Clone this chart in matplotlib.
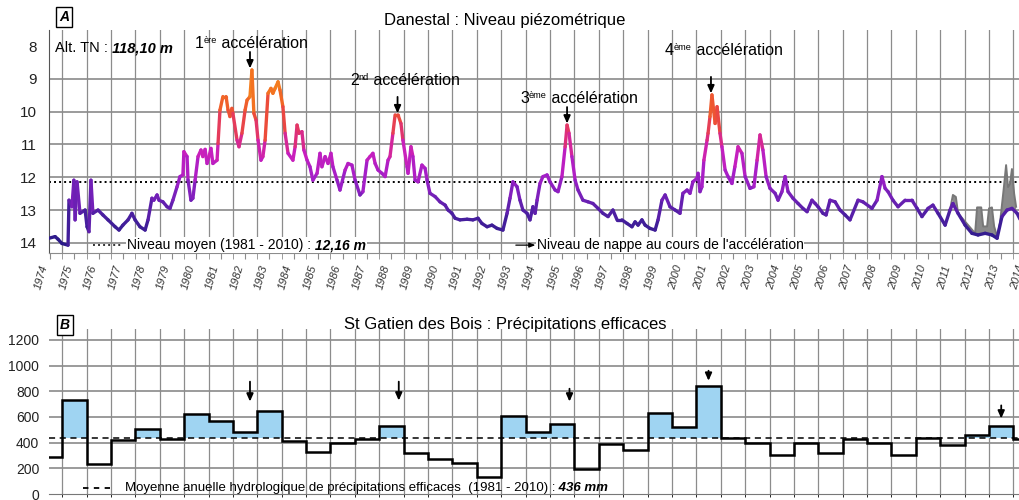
import numpy as np
import matplotlib
matplotlib.use('Agg')
import matplotlib.pyplot as plt
from matplotlib.collections import LineCollection
from matplotlib.colors import LinearSegmentedColormap, Normalize
from matplotlib.patches import Rectangle

plt.rcParams['font.family'] = ['Liberation Sans', 'DejaVu Sans']

############################   Danestal : piezometric level   ############################

# decimal year, depth of water table (m below ground)
piezo_year = [
    1973.96, 1974.21, 1974.33, 1974.49, 1974.74, 1974.78, 1974.90, 1974.98, 1975.03, 1975.11,
    1975.23, 1975.44, 1975.52, 1975.60, 1975.68, 1975.76, 1975.97, 1976.17, 1976.38, 1976.67,
    1976.83, 1976.99, 1977.20, 1977.36, 1977.49, 1977.69, 1977.90, 1978.02, 1978.18, 1978.26,
    1978.39, 1978.47, 1978.63, 1978.80, 1978.92, 1979.04, 1979.21, 1979.33, 1979.45, 1979.49,
    1979.62, 1979.66, 1979.78, 1979.86, 1979.95, 1980.07, 1980.19, 1980.27, 1980.36, 1980.44,
    1980.52, 1980.60, 1980.68, 1980.85, 1980.89, 1980.97, 1981.09, 1981.22, 1981.30, 1981.38,
    1981.46, 1981.50, 1981.67, 1981.75, 1981.87, 1982.00, 1982.08, 1982.20, 1982.28, 1982.36,
    1982.45, 1982.53, 1982.65, 1982.73, 1982.82, 1982.94, 1983.06, 1983.14, 1983.23, 1983.35,
    1983.43, 1983.55, 1983.64, 1983.76, 1983.96, 1984.05, 1984.13, 1984.21, 1984.33, 1984.41,
    1984.54, 1984.66, 1984.78, 1984.95, 1985.07, 1985.15, 1985.28, 1985.40, 1985.52, 1985.60,
    1985.77, 1985.89,
    1986.10, 1986.22, 1986.38, 1986.51, 1986.71, 1986.83, 1987.00, 1987.12, 1987.24, 1987.33,
    1987.45, 1987.61, 1987.74, 1987.86, 1987.94, 1988.06, 1988.15, 1988.27, 1988.39, 1988.47,
    1988.64, 1988.68, 1988.80, 1988.88, 1988.97, 1989.09, 1989.25, 1989.38, 1989.46, 1989.58,
    1989.79, 1989.99, 1990.20, 1990.32, 1990.48, 1990.61, 1990.81, 1991.10, 1991.34, 1991.55,
    1991.71, 1991.92, 1992.12, 1992.33, 1992.57, 1992.74, 1992.86, 1992.98, 1993.15, 1993.27,
    1993.39, 1993.56, 1993.68, 1993.80, 1993.89, 1993.97, 1994.09, 1994.21, 1994.38, 1994.50,
    1994.71, 1994.83, 1994.99, 1995.12, 1995.20, 1995.28, 1995.40, 1995.53, 1995.65, 1995.85,
    1996.06, 1996.26, 1996.47, 1996.67, 1996.88, 1997.08, 1997.25, 1997.45, 1997.66, 1997.86,
    1997.99, 1998.11, 1998.27, 1998.40, 1998.60, 1998.81, 1998.93, 1999.09, 1999.22, 1999.42,
    1999.63, 1999.83,
    1999.95, 2000.12, 2000.24, 2000.36, 2000.53, 2000.57, 2000.65, 2000.73, 2000.81, 2000.94,
    2000.98, 2001.06, 2001.14, 2001.27, 2001.35, 2001.47, 2001.55, 2001.68, 2001.80, 2001.96,
    2002.08, 2002.21, 2002.37, 2002.50, 2002.70, 2002.86, 2002.99, 2003.11, 2003.23, 2003.36,
    2003.52, 2003.73, 2003.85, 2004.01, 2004.14, 2004.26, 2004.46, 2004.67, 2004.87, 2005.04,
    2005.24, 2005.37, 2005.49, 2005.69, 2005.82, 2005.98, 2006.19, 2006.39, 2006.60, 2006.80,
    2007.13, 2007.33, 2007.70, 2007.91, 2008.11, 2008.24, 2008.36, 2008.56, 2008.77, 2009.06,
    2009.34, 2009.55, 2009.75, 2010.00, 2010.20, 2010.41, 2010.70, 2010.90, 2011.02, 2011.23,
    2011.52, 2011.80, 2012.05, 2012.34, 2012.62, 2012.83, 2013.03, 2013.24, 2013.44, 2013.65,
    2013.85,
]
piezo_level = [
    13.86, 13.81, 13.89, 14.02, 14.07, 12.70, 12.90, 12.09, 13.30, 12.14,
    13.10, 13.00, 13.51, 13.66, 12.09, 13.10, 13.00, 13.15, 13.30, 13.51,
    13.61, 13.46, 13.30, 13.10, 13.30, 13.51, 13.61, 13.30, 12.64, 12.70,
    12.54, 12.70, 12.75, 12.90, 12.95, 12.70, 12.29, 11.98, 11.93, 11.22,
    11.37, 12.09, 12.70, 12.64, 12.09, 11.37, 11.17, 11.37, 11.15, 11.58,
    11.37, 11.12, 11.58, 11.48, 10.97, 9.95, 9.54, 9.54, 9.95, 10.15,
    9.90, 10.05, 10.87, 11.07, 10.66, 9.95, 9.65, 9.54, 8.73, 10.05,
    10.26, 10.87, 11.48, 11.37, 10.87, 9.44, 9.29, 9.44, 9.29, 9.09,
    9.34, 9.85, 10.66, 11.27, 11.48, 11.07, 10.41, 10.66, 10.61, 11.17,
    11.48, 11.68, 12.09, 11.88, 11.27, 11.68, 11.37, 11.58, 11.27, 11.68,
    12.09, 12.39,
    11.78, 11.58, 11.63, 12.09, 12.54, 12.44, 11.48, 11.37, 11.27, 11.58,
    11.78, 11.88, 11.98, 11.48, 11.37, 10.66, 10.10, 10.10, 10.36, 10.87,
    11.68, 11.88, 11.07, 11.37, 12.09, 12.14, 11.63, 11.73, 12.09, 12.49,
    12.59, 12.75, 12.85, 13.00, 13.10, 13.25, 13.30, 13.28, 13.30, 13.25,
    13.41, 13.51, 13.46, 13.56, 13.61, 13.10, 12.64, 12.14, 12.29, 12.70,
    13.00, 13.10, 13.30, 12.90, 13.10, 12.70, 12.19, 11.98, 11.93, 12.14,
    12.39, 12.44, 11.98, 11.07, 10.41, 10.66, 11.37, 12.09, 12.39, 12.70,
    12.75, 12.80, 12.95, 13.10, 13.20, 13.00, 13.30, 13.30, 13.41, 13.51,
    13.36, 13.46, 13.30, 13.46, 13.56, 13.61, 13.30, 12.70, 12.54, 12.90,
    13.00, 13.10,
    12.49, 12.39, 12.49, 12.14, 12.03, 11.88, 12.44, 12.29, 11.48, 10.87,
    10.66, 10.15, 9.49, 10.36, 9.85, 10.66, 11.07, 11.78, 11.98, 12.19,
    11.68, 11.07, 11.27, 11.98, 12.34, 12.29, 11.48, 10.71, 11.17, 11.98,
    12.34, 12.49, 12.70, 12.44, 11.98, 12.44, 12.64, 12.80, 12.95, 13.05,
    12.70, 12.80, 12.90, 13.10, 13.15, 12.70, 12.75, 13.00, 13.15, 13.30,
    12.70, 12.75, 12.95, 12.70, 11.98, 12.34, 12.44, 12.70, 12.90, 12.70,
    12.70, 12.95, 13.20, 12.95, 12.85, 13.10, 13.46, 13.00, 12.80, 13.10,
    13.46, 13.71, 13.76, 13.71, 13.76, 13.86, 13.20, 13.00, 12.95, 13.10,
    13.40,
]

# secondary record (grey) 2011-2013
gray_year = [2010.90, 2011.02, 2011.14, 2011.23,
             2011.93, 2012.01, 2012.18, 2012.26, 2012.42, 2012.50, 2012.62, 2012.71, 2012.83,
             2012.95, 2013.03, 2013.11, 2013.20, 2013.28, 2013.36, 2013.44, 2013.53, 2013.61]
gray_level = [13.00, 12.54, 12.60, 13.10,
              13.71, 12.92, 12.92, 13.50, 13.50, 12.95, 12.92, 13.50, 13.80,
              13.40, 12.85, 12.30, 11.63, 12.30, 12.20, 11.75, 12.50, 12.90]

mean_level = 12.16
alt_tn = '118,10 m'

# acceleration peaks (year, ordinal)
accel_year = [1982.2, 1988.25, 1995.2, 2001.1]
accel_num = ['1', '2', '3', '4']
accel_sup = ['ère', 'nd', 'ème', 'ème']

############################   St Gatien des Bois : effective rainfall   ############################

precip_year = list(range(1974, 2015))
precip_mm = [290, 730, 235, 420, 510, 430, 620, 565, 485, 645,
             410, 330, 395, 425, 530, 320, 275, 245, 135, 605,
             485, 545, 195, 390, 345, 630, 520, 840, 440, 400,
             300, 400, 320, 430, 395, 300, 440, 385, 460, 530,
             430]
mean_precip = 436

precip_arrow_year = [1982.2, 1988.3, 1995.3, 2001.0, 2013.0]
precip_arrow_top = [875, 875, 820, 960, 690]
precip_arrow_tip = [720, 728, 720, 882, 588]

# colour ramp along the water table depth
level_colors = [(8.7, '#f7941d'), (9.5, '#f26c22'), (10.2, '#ec4a3c'), (10.7, '#de2f78'),
                (11.3, '#c81fbe'), (12.0, '#a21fc8'), (12.6, '#7420b8'), (13.2, '#4a1fa0'),
                (14.0, '#2a1a88')]

W, H = 1020, 500
fig = plt.figure(figsize=(W / 100, H / 100), dpi=100)

XMIN, XMAX = 1973.96, 2014.59
ax_a = fig.add_axes([49 / W, 1 - 253 / H, (1040 - 49) / W, (253 - 30) / H])
ax_b = fig.add_axes([49 / W, 1 - 494 / H, (1040 - 49) / W, (494 - 329) / H])

grid_col = '#8c8c8c'
half_years = np.arange(1974.5, 2015, 1.0)

for ax in (ax_a, ax_b):
    ax.set_xlim(XMIN, XMAX)
    ax.set_xticks(half_years, minor=True)
    ax.grid(which='minor', axis='x', color=grid_col, lw=0.9, zorder=0)
    for s in ('top', 'right'):
        ax.spines[s].set_visible(False)

# ---------------- panel A ----------------
ax_a.set_ylim(14.31, 7.51)
ax_a.set_yticks(range(8, 15))
ax_a.tick_params(axis='y', length=0, pad=9, labelsize=11, labelcolor='#222')
ax_a.set_xticks(precip_year)
ax_a.set_xticklabels([str(y) for y in precip_year], rotation=74, ha='right',
                     fontsize=8, fontstyle='italic', color='#333')
ax_a.tick_params(axis='x', which='both', length=4, color=grid_col, pad=4)
ax_a.spines['left'].set_color('#555')
ax_a.spines['bottom'].set_color(grid_col)

# legend strip
ax_a.add_patch(Rectangle((1975.5, 13.83), 30.9, 0.44, facecolor='white', edgecolor='none', zorder=1.2))
for lv in range(9, 15):
    ax_a.axhline(lv, color='#808080', lw=1.1, zorder=1.3)
ax_a.axhline(mean_level, color='k', ls=(0, (1, 1.6)), lw=1.4, zorder=2)

cpos = [(lv - level_colors[0][0]) / (level_colors[-1][0] - level_colors[0][0]) for lv, _ in level_colors]
cmap = LinearSegmentedColormap.from_list('depth', list(zip(cpos, [c for _, c in level_colors])))
norm = Normalize(level_colors[0][0], level_colors[-1][0])

# grey record under the main curve
gy = np.array(gray_year)
base = np.interp(gy, piezo_year, piezo_level)
ax_a.fill_between(gy, gray_level, base, where=np.array(gray_level) < base, color='#8a8a8a', lw=0, zorder=2.4)
ax_a.plot(gray_year, gray_level, color='#777777', lw=1.4, zorder=2.5)

pts = np.column_stack([piezo_year, piezo_level])
segs = np.stack([pts[:-1], pts[1:]], axis=1)
lc = LineCollection(segs, cmap=cmap, norm=norm, lw=2.4, capstyle='round', joinstyle='round', zorder=3)
lc.set_array((pts[:-1, 1] + pts[1:, 1]) / 2)
ax_a.add_collection(lc)

py = np.array(piezo_year)
pl = np.array(piezo_level)
for yr in accel_year:
    peak = pl[np.abs(py - yr) < 0.12].min()
    ax_a.annotate('', xy=(yr, peak - 0.05), xytext=(yr, peak - 0.55),
                  arrowprops=dict(arrowstyle='-|>,head_length=0.45,head_width=0.2',
                                  color='k', lw=1.3, shrinkA=0, shrinkB=0), zorder=6)


def chain(ax, x, y, parts, size, zorder=6, bbox=None):
    # parts: list of (text, style dict); consecutive runs on one baseline
    first, style = parts[0]
    t = ax.text(x, y, first, fontsize=size, ha='left', va='center', zorder=zorder, bbox=bbox, **style)
    for s, style in parts[1:]:
        t = ax.annotate(s, xy=(1, 0), xycoords=t, ha='left', va='bottom', fontsize=size,
                        zorder=zorder, bbox=bbox, **style)
    return t


def ordinal(ax, x, y, num, sup, size=11.5):
    t1 = ax.text(x, y, num, fontsize=size, ha='left', va='center', zorder=6)
    t2 = ax.annotate(sup, xy=(1, 0.38), xycoords=t1, ha='left', va='bottom', fontsize=size * 0.58, zorder=6)
    ax.annotate(' accélération', xy=(1, 0), xycoords=(t2, t1), ha='left', va='bottom', fontsize=size, zorder=6)


accel_text_pos = [(1979.95, 7.91), (1986.30, 9.04), (1993.27, 9.59), (1999.22, 8.12)]
for (tx, ty), n, s in zip(accel_text_pos, accel_num, accel_sup):
    ordinal(ax_a, tx, ty, n, s)

bi = dict(fontweight='bold', fontstyle='italic')
chain(ax_a, 1974.2, 8.06, [('Alt. TN :', {}), (' ' + alt_tn, bi)], 10.5)

wb = dict(facecolor='white', edgecolor='none', pad=0.6)
ax_a.plot([1975.76, 1976.95], [14.07, 14.07], color='#333', ls=(0, (1, 1.6)), lw=1.4, zorder=5)
chain(ax_a, 1977.16, 14.07,
      [('Niveau moyen (1981 - 2010) :', {}), (' ' + f'{mean_level:.2f}'.replace('.', ',') + ' m', bi)],
      10, bbox=wb)
ax_a.annotate('', xy=(1993.9, 14.07), xytext=(1993.1, 14.07),
              arrowprops=dict(arrowstyle='-|>,head_length=0.35,head_width=0.14', color='k', lw=0.9,
                              shrinkA=0, shrinkB=0), zorder=6)
ax_a.text(1993.95, 14.07, "Niveau de nappe au cours de l'accélération", fontsize=10,
          ha='left', va='center', zorder=6, bbox=wb)

# ---------------- panel B ----------------
ax_b.set_ylim(0, 1285)
ax_b.set_yticks(range(0, 1201, 200))
ax_b.tick_params(axis='y', length=0, pad=7, labelsize=10, labelcolor='#222')
ax_b.set_xticks([])
ax_b.spines['left'].set_visible(False)
ax_b.spines['bottom'].set_color('#777')
for v in range(200, 1201, 200):
    ax_b.axhline(v, color='#808080', lw=1.1, zorder=0.8)

ax_b.add_patch(Rectangle((1975.2, 14), 23.6, 88, facecolor='white', edgecolor='none', zorder=1.2))

pv = np.array(precip_mm, dtype=float)
edges = np.append(np.array(precip_year) - 0.5, precip_year[-1] + 0.5)
ax_b.stairs(np.maximum(pv, mean_precip), edges, baseline=mean_precip, fill=True,
            color='#9fd4f2', zorder=2)
ax_b.stairs(pv, edges, baseline=None, color='k', lw=1.8, zorder=3)
ax_b.axhline(mean_precip, color='k', ls=(0, (4, 3)), lw=1.1, zorder=4)

for yr, top, tip in zip(precip_arrow_year, precip_arrow_top, precip_arrow_tip):
    ax_b.annotate('', xy=(yr, tip), xytext=(yr, top),
                  arrowprops=dict(arrowstyle='-|>,head_length=0.45,head_width=0.2',
                                  color='k', lw=1.3, shrinkA=0, shrinkB=0), zorder=6)

ax_b.plot([1975.35, 1976.46], [46, 46], color='k', ls=(0, (3, 3)), lw=1.3, zorder=5)
chain(ax_b, 1977.08, 46,
      [('Moyenne anuelle hydrologique de précipitations efficaces  (1981 - 2010) :', {}),
       (f' {mean_precip} mm', bi)], 9.5)

# titles and panel tags
fig.text(505 / W, 1 - 21 / H, 'Danestal : Niveau piézométrique', ha='center', va='center', fontsize=12)
fig.text(505 / W, 1 - 324 / H, 'St Gatien des Bois : Précipitations efficaces', ha='center', va='center',
         fontsize=12)
box = dict(boxstyle='square,pad=0.2', facecolor='white', edgecolor='k', lw=1)
fig.text(64 / W, 1 - 17 / H, 'A', ha='center', va='center', fontsize=10, bbox=box, **bi)
fig.text(65 / W, 1 - 325 / H, 'B', ha='center', va='center', fontsize=10, bbox=box, **bi)

fig.savefig('out.png', dpi=100)
